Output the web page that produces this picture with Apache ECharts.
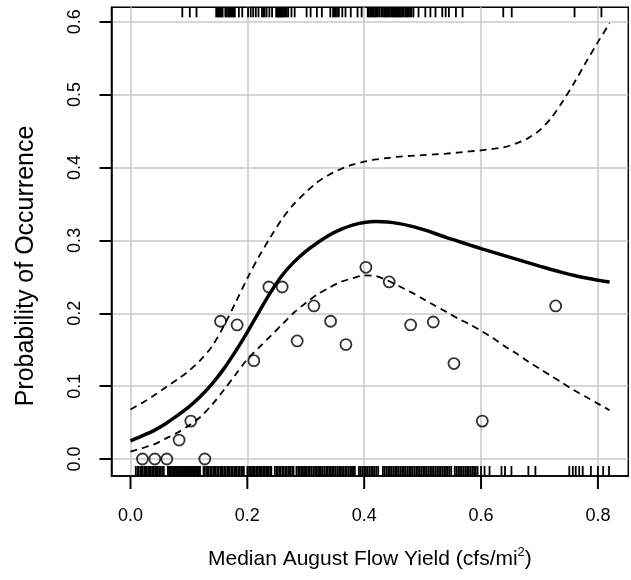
<!DOCTYPE html>
<html>
<head>
<meta charset="utf-8">
<script src="https://cdn.jsdelivr.net/npm/echarts@6/dist/echarts.min.js"></script>
<style>
  html, body { margin: 0; padding: 0; background: #fff; }
  #chart { width: 631px; height: 580px; }
</style>
</head>
<body>
<div id="chart"></div>
<script>
// Binned observed proportions (open circles)
const binX = [0.0205, 0.0416, 0.0622, 0.1272, 0.0832, 0.1033, 0.1541, 0.1825, 0.2111, 0.2368, 0.2596,
              0.2853, 0.3139, 0.3425, 0.3687, 0.4029, 0.4428, 0.4795, 0.5182, 0.5536, 0.6021, 0.7277];
const binY = [0.000, 0.000, 0.000, 0.000, 0.026, 0.052, 0.189, 0.184, 0.135, 0.236, 0.236,
              0.162, 0.210, 0.189, 0.157, 0.263, 0.243, 0.184, 0.188, 0.131, 0.052, 0.210];

// Fitted probability curve and its confidence band
const curveX = [0.00, 0.02, 0.04, 0.06, 0.08, 0.10, 0.12, 0.14, 0.16, 0.18, 0.20, 0.22, 0.24, 0.26,
                0.28, 0.30, 0.32, 0.34, 0.36, 0.38, 0.40, 0.42, 0.44, 0.46, 0.48, 0.50, 0.52, 0.54,
                0.56, 0.58, 0.60, 0.62, 0.64, 0.66, 0.68, 0.70, 0.72, 0.74, 0.76, 0.78, 0.80, 0.82];
const fitY   = [0.0250, 0.0318, 0.0390, 0.0485, 0.0595, 0.0715, 0.0860, 0.1035, 0.1240, 0.1480, 0.1740,
                0.2020, 0.2290, 0.2525, 0.2705, 0.2850, 0.2968, 0.3070, 0.3150, 0.3210, 0.3245, 0.3258,
                0.3252, 0.3230, 0.3196, 0.3150, 0.3098, 0.3040, 0.2990, 0.2938, 0.2887, 0.2839, 0.2791,
                0.2743, 0.2695, 0.2647, 0.2601, 0.2558, 0.2518, 0.2483, 0.2454, 0.2430];
const upperY = [0.068, 0.077, 0.087, 0.098, 0.109, 0.121, 0.136, 0.155, 0.183, 0.215, 0.248, 0.278,
                0.305, 0.330, 0.350, 0.366, 0.380, 0.390, 0.398, 0.404, 0.408, 0.411, 0.413, 0.415,
                0.416, 0.417, 0.418, 0.419, 0.4205, 0.422, 0.4235, 0.4255, 0.428, 0.433, 0.440, 0.451,
                0.468, 0.491, 0.517, 0.545, 0.572, 0.598];
const lowerY = [0.010, 0.015, 0.020, 0.028, 0.036, 0.046, 0.058, 0.075, 0.095, 0.116, 0.137, 0.153,
                0.169, 0.185, 0.201, 0.214, 0.226, 0.235, 0.243, 0.248, 0.252, 0.251, 0.245, 0.237,
                0.229, 0.220, 0.211, 0.202, 0.193, 0.185, 0.176, 0.166, 0.155, 0.145, 0.134, 0.124,
                0.114, 0.104, 0.094, 0.085, 0.076, 0.067];

// Individual sites: present (top rug) and absent (bottom rug)
const presentX = [0.0887, 0.1015, 0.113, 0.1467, 0.1487, 0.1507, 0.1525, 0.1542, 0.156, 0.1577, 0.1623,
  0.1645, 0.167, 0.169, 0.171, 0.173, 0.175, 0.177, 0.1786, 0.1855, 0.1913, 0.2012, 0.2058, 0.21,
  0.2145, 0.2191, 0.225, 0.2273, 0.2296, 0.233, 0.2377, 0.2423, 0.2493, 0.2505, 0.252, 0.2535, 0.255,
  0.2565, 0.258, 0.2595, 0.261, 0.263, 0.2655, 0.2675, 0.27, 0.2755, 0.281, 0.3014, 0.3083, 0.319,
  0.3275, 0.342, 0.3467, 0.3488, 0.351, 0.3535, 0.3567, 0.3625, 0.368, 0.377, 0.3886, 0.3956, 0.406,
  0.408, 0.41, 0.412, 0.4147, 0.4165, 0.4188, 0.421, 0.4234, 0.426, 0.4292, 0.4315, 0.434, 0.436,
  0.438, 0.44, 0.442, 0.444, 0.4466, 0.448, 0.45, 0.452, 0.4536, 0.455, 0.457, 0.459, 0.461, 0.463,
  0.465, 0.467, 0.47, 0.4725, 0.4744, 0.4765, 0.4785, 0.481, 0.4843, 0.493, 0.5046, 0.5133, 0.522,
  0.5336, 0.5394, 0.545, 0.557, 0.5684, 0.638, 0.6525, 0.760, 0.806];
const absentX = [0.009, 0.012, 0.014, 0.017, 0.019, 0.021, 0.024, 0.026, 0.028, 0.031, 0.033, 0.035,
  0.038, 0.040, 0.043, 0.045, 0.047, 0.050, 0.052, 0.055, 0.057, 0.064, 0.066, 0.068, 0.071, 0.073,
  0.076, 0.078, 0.081, 0.083, 0.085, 0.088, 0.090, 0.093, 0.095, 0.097, 0.100, 0.102, 0.105, 0.107,
  0.109, 0.112, 0.114, 0.117, 0.119, 0.125, 0.127, 0.130, 0.132, 0.134, 0.137, 0.139, 0.142, 0.144,
  0.146, 0.149, 0.151, 0.154, 0.156, 0.158, 0.161, 0.163, 0.166, 0.168, 0.170, 0.173, 0.175, 0.178,
  0.180, 0.182, 0.185, 0.187, 0.190, 0.192, 0.194, 0.200, 0.203, 0.205, 0.208, 0.210, 0.212, 0.215,
  0.217, 0.220, 0.222, 0.224, 0.227, 0.229, 0.232, 0.234, 0.236, 0.239, 0.241, 0.247, 0.250, 0.252,
  0.255, 0.257, 0.260, 0.262, 0.265, 0.267, 0.270, 0.272, 0.274, 0.277, 0.279, 0.284, 0.287, 0.289,
  0.292, 0.294, 0.297, 0.299, 0.302, 0.305, 0.307, 0.310, 0.313, 0.316, 0.318, 0.321, 0.324, 0.326,
  0.329, 0.332, 0.335, 0.337, 0.340, 0.343, 0.346, 0.348, 0.351, 0.354, 0.357, 0.359, 0.362, 0.365,
  0.368, 0.370, 0.373, 0.376, 0.379, 0.381, 0.384, 0.391, 0.394, 0.397, 0.400, 0.403, 0.406, 0.409,
  0.412, 0.415, 0.418, 0.421, 0.424, 0.432, 0.435, 0.438, 0.441, 0.444, 0.447, 0.450, 0.453, 0.456,
  0.459, 0.462, 0.465, 0.468, 0.471, 0.474, 0.477, 0.480, 0.483, 0.486, 0.489, 0.492, 0.495, 0.498,
  0.501, 0.504, 0.507, 0.510, 0.513, 0.516, 0.519, 0.522, 0.525, 0.528, 0.531, 0.534, 0.537, 0.540,
  0.543, 0.546, 0.549, 0.555, 0.558, 0.561, 0.564, 0.567, 0.570, 0.573, 0.576, 0.579, 0.582, 0.585,
  0.588, 0.591, 0.594, 0.600, 0.606, 0.6145, 0.635, 0.641, 0.652, 0.681, 0.693, 0.751, 0.757, 0.762,
  0.768, 0.774, 0.788, 0.800, 0.809, 0.819];

// Tick values
const xTicks = [0, 0.2, 0.4, 0.6, 0.8];
const yTicks = [0, 0.1, 0.2, 0.3, 0.4, 0.5, 0.6];

// Axis extents (data range padded on each side)
const X_MIN = -0.0325, X_MAX = 0.852;
const Y_MIN = -0.0233, Y_MAX = 0.6198;

const FONT = '"Liberation Sans", Arial, Helvetica, sans-serif';
const pairs = (xs, ys) => xs.map((x, i) => [x, ys[i]]);

// Short vertical strokes on the bottom or top edge of the plot box
// (rugs, and the x-axis tick marks). dir = -1 draws upward, +1 downward.
function edgeStrokes(xs, yEdge, dir, len, width) {
  return {
    type: 'custom',
    data: xs.map(x => [x]),
    clip: false,
    silent: true,
    z: 3,
    renderItem: function (params, api) {
      const p = api.coord([api.value(0), yEdge]);
      return {
        type: 'line',
        shape: { x1: p[0], y1: p[1], x2: p[0], y2: p[1] + dir * len },
        style: { stroke: '#000', lineWidth: width }
      };
    }
  };
}

const axisLineStyle = { show: true, onZero: false, lineStyle: { color: '#000', width: 1.5 } };

const chart = echarts.init(document.getElementById('chart'), null, { renderer: 'canvas' });
chart.setOption({
  animation: false,
  backgroundColor: '#fff',
  textStyle: { fontFamily: FONT },
  grid: {
    left: 111.5, right: 2.7, top: 7.3, bottom: 104,
    show: true, borderColor: '#000', borderWidth: 1.5, backgroundColor: 'transparent',
    containLabel: false
  },
  xAxis: {
    type: 'value', min: X_MIN, max: X_MAX, position: 'bottom',
    axisLine: axisLineStyle,
    axisTick: { show: false, customValues: xTicks },
    axisLabel: { show: true, customValues: xTicks, margin: 31, fontSize: 18, color: '#000',
                 fontFamily: FONT, formatter: v => v.toFixed(1) },
    splitLine: { show: true, lineStyle: { color: '#c8c8c8', width: 1.5 } },
    name: 'Median August Flow Yield (cfs/mi{sup|2})',
    nameLocation: 'middle', nameGap: 70,
    nameTextStyle: { fontSize: 21, color: '#000', fontFamily: FONT, lineHeight: 26,
                     rich: { sup: { fontSize: 13, color: '#000', fontFamily: FONT, verticalAlign: 'top', lineHeight: 13 } } }
  },
  yAxis: {
    type: 'value', min: Y_MIN, max: Y_MAX, position: 'left',
    axisLine: axisLineStyle,
    axisTick: { show: true, inside: false, length: 12, customValues: yTicks,
                lineStyle: { color: '#000', width: 2 } },
    axisLabel: { show: true, customValues: yTicks, rotate: 90, margin: 27, fontSize: 18, color: '#000',
                 fontFamily: FONT, formatter: v => v.toFixed(1) },
    splitLine: { show: true, lineStyle: { color: '#c8c8c8', width: 1.5 } }
  },
  graphic: [
    {
      type: 'text', x: 26, y: 266, rotation: Math.PI / 2,
      style: { text: 'Probability of Occurrence', fontSize: 25, fontFamily: FONT, fill: '#000',
               textAlign: 'center', textVerticalAlign: 'middle' }
    }
  ],
  series: [
    edgeStrokes(xTicks, Y_MIN, 1, 13, 2),
    edgeStrokes(absentX, Y_MIN, -1, 10, 1.8),
    edgeStrokes(presentX, Y_MAX, 1, 10, 1.8),
    {
      type: 'line', data: pairs(curveX, upperY), smooth: 0.3, showSymbol: false, z: 4,
      lineStyle: { color: '#000', width: 1.8, type: [7, 5] }
    },
    {
      type: 'line', data: pairs(curveX, lowerY), smooth: 0.3, showSymbol: false, z: 4,
      lineStyle: { color: '#000', width: 1.8, type: [7, 5] }
    },
    {
      type: 'line', data: pairs(curveX, fitY), smooth: 0.3, showSymbol: false, z: 5,
      lineStyle: { color: '#000', width: 3.5 }
    },
    {
      type: 'scatter', data: pairs(binX, binY), symbol: 'circle', symbolSize: 11, z: 6,
      itemStyle: { color: 'rgba(0,0,0,0)', borderColor: '#000', borderWidth: 1.8 }
    }
  ]
});
</script>
</body>
</html>
